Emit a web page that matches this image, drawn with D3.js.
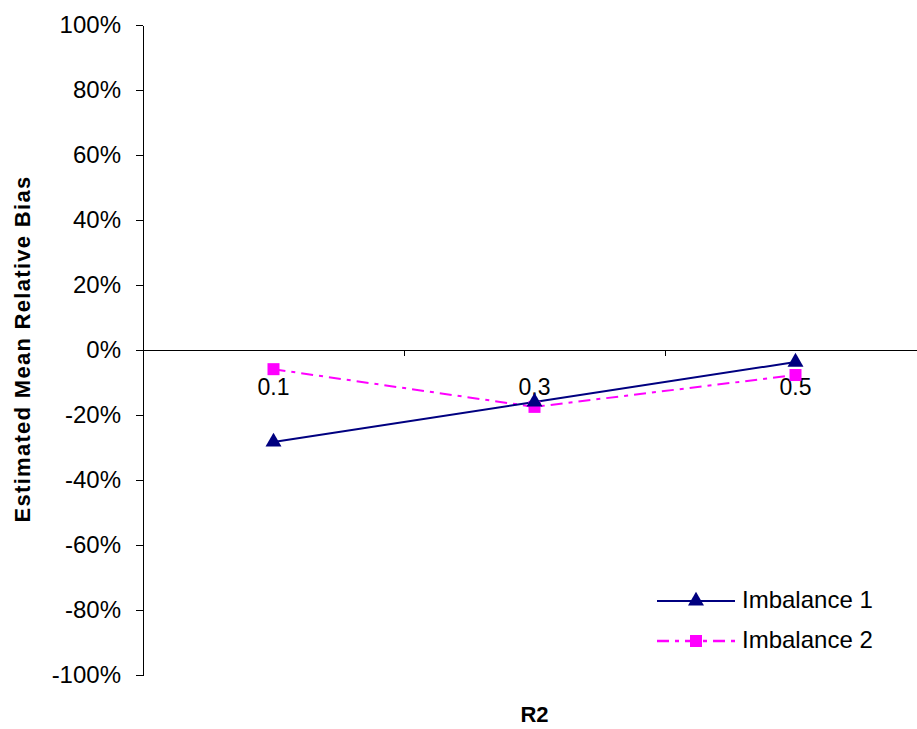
<!DOCTYPE html>
<meta charset="utf-8">
<style>
	body { margin: 0; background: #fff; }
	svg text { font-family: Arial, "Liberation Sans", sans-serif; fill: #000; }
	.axis path, .axis line { stroke: #000; shape-rendering: crispEdges; }
</style>
<svg width="917" height="729"></svg>
<script src="https://d3js.org/d3.v7.min.js"></script>
<script>
	// data
	var categories = ["0.1", "0.3", "0.5"];
	var imbalance1 = [-0.283, -0.16, -0.037];
	var imbalance2 = [-0.059, -0.175, -0.077];
	var yTicks = [-1, -0.8, -0.6, -0.4, -0.2, 0, 0.2, 0.4, 0.6, 0.8, 1];
	var seriesNames = ["Imbalance 1", "Imbalance 2"];

	var svg = d3.select("svg");
	var plotLeft = 143, plotRight = 926, plotTop = 25, plotBottom = 675;

	// scales
	var x = d3.scaleBand().domain(categories).range([plotLeft, plotRight]);
	var y = d3.scaleLinear().domain([-1, 1]).range([plotBottom, plotTop]);

	// y axis (excel style hyphen minus)
	var pct = function(d) { return Math.round(d * 100) + "%"; };
	var yAxis = svg.append("g")
		.attr("class", "axis")
		.attr("transform", "translate(" + plotLeft + ",0)")
		.call(d3.axisLeft(y).tickValues(yTicks).tickSize(7).tickSizeOuter(0)
			.tickFormat(pct));
	yAxis.selectAll("text")
		.attr("x", -22)
		.style("font-size", "24px");

	// x axis at zero, ticks at category boundaries
	var xg = svg.append("g").attr("class", "axis");
	xg.append("line")
		.attr("x1", plotLeft).attr("x2", 917)
		.attr("y1", y(0)).attr("y2", y(0));
	xg.selectAll(".tk")
		.data(categories.slice(1))
		.enter().append("line")
		.attr("x1", function(d) { return x(d); })
		.attr("x2", function(d) { return x(d); })
		.attr("y1", y(0)).attr("y2", y(0) + 6);
	xg.selectAll(".lbl")
		.data(categories)
		.enter().append("text")
		.attr("x", function(d) { return x(d) + x.bandwidth() / 2; })
		.attr("y", y(0) + 45)
		.attr("text-anchor", "middle")
		.style("font-size", "23px")
		.text(function(d) { return d; });

	// titles
	svg.append("text")
		.attr("transform", "translate(30,349) rotate(-90)")
		.attr("text-anchor", "middle")
		.style("font-size", "22px")
		.style("font-weight", "bold")
		.style("letter-spacing", "1.3px")
		.text("Estimated Mean Relative Bias");
	svg.append("text")
		.attr("x", x("0.3") + x.bandwidth() / 2)
		.attr("y", 722)
		.attr("text-anchor", "middle")
		.style("font-size", "22px")
		.style("font-weight", "bold")
		.text("R2");

	// lines
	var cx = function(d, i) { return x(categories[i]) + x.bandwidth() / 2; };
	var line = d3.line().x(cx).y(function(d) { return y(d); });

	svg.append("path")
		.datum(imbalance2)
		.attr("d", line)
		.attr("fill", "none")
		.attr("stroke", "#ff00ff")
		.attr("stroke-width", 2)
		.attr("stroke-dasharray", "12,6,4,6");
	svg.append("path")
		.datum(imbalance1)
		.attr("d", line)
		.attr("fill", "none")
		.attr("stroke", "#000080")
		.attr("stroke-width", 2);

	var tri = d3.symbol().type(d3.symbolTriangle).size(110);
	svg.selectAll(".sq")
		.data(imbalance2)
		.enter().append("rect")
		.attr("x", function(d, i) { return cx(d, i) - 6; })
		.attr("y", function(d) { return y(d) - 6; })
		.attr("width", 12).attr("height", 12)
		.attr("fill", "#ff00ff");
	svg.selectAll(".tri")
		.data(imbalance1)
		.enter().append("path")
		.attr("d", tri)
		.attr("transform", function(d, i) { return "translate(" + cx(d, i) + "," + y(d) + ")"; })
		.attr("fill", "#000080");

	// legend
	var lg = svg.append("g").attr("transform", "translate(657,601)");
	lg.append("line").attr("x1", 0).attr("x2", 78).attr("y1", 0).attr("y2", 0)
		.attr("stroke", "#000080").attr("stroke-width", 2);
	lg.append("path").attr("d", tri).attr("transform", "translate(39,0)").attr("fill", "#000080");
	lg.append("line").attr("x1", 0).attr("x2", 78).attr("y1", 40).attr("y2", 40)
		.attr("stroke", "#ff00ff").attr("stroke-width", 2.5)
		.attr("stroke-dasharray", "12,6,4,6");
	lg.append("rect").attr("x", 33).attr("y", 34).attr("width", 12).attr("height", 12)
		.attr("fill", "#ff00ff");
	lg.selectAll(".lt")
		.data(seriesNames)
		.enter().append("text")
		.attr("x", 85)
		.attr("y", function(d, i) { return i * 40 + 7; })
		.style("font-size", "24px")
		.text(function(d) { return d; });
</script>
